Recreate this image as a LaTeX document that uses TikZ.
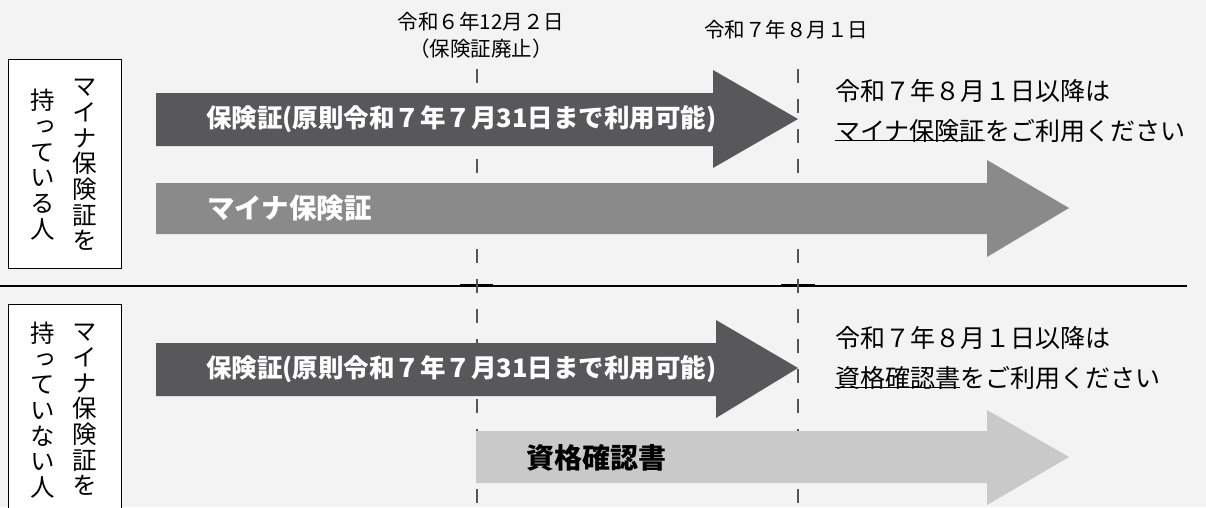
\documentclass[tikz,border=0pt]{standalone}
\usepackage{fontspec}
\newfontfamily\jp{Noto Sans CJK JP}
\newfontfamily\jpv{Noto Sans CJK JP}[RawFeature=+vert]
\definecolor{bgcol}{RGB}{243,243,243}
\definecolor{darkarr}{RGB}{88,87,89}
\definecolor{midarr}{RGB}{138,138,138}
\definecolor{lightarr}{RGB}{200,201,200}
\definecolor{dashcol}{RGB}{85,85,85}
\tikzset{
  dashline/.style={draw=dashcol, line width=1.3pt, dash pattern=on 14pt off 16pt},
  sidebox/.style={draw=black, line width=0.9pt, fill=white, minimum width=113pt, inner sep=0pt},
  vcol/.style={align=center, inner sep=0pt, font=\jpv\fontsize{24.5}{25.7}\selectfont},
  arrlabel/.style={anchor=west, inner sep=0pt, text=white, font=\jp\bfseries\fontsize{25.5}{30}\selectfont},
  datelabel/.style={inner sep=0pt, font=\jp\fontsize{20.5}{24}\selectfont},
  notetext/.style={anchor=west, inner sep=0pt, font=\jp\fontsize{25}{30}\selectfont},
}
\begin{document}
\begin{tikzpicture}[x=1pt,y=-1pt]
\useasboundingbox (0,0) rectangle (1206,507);
\fill[bgcol] (0,0) rectangle (1206,507);

% dashed time lines
\coordinate (d1t) at (477,69);
\coordinate (d1b) at (477,507);
\coordinate (d2t) at (798,69);
\coordinate (d2b) at (798,507);
\draw[dashline] (d1t) -- (d1b);
\draw[dashline] (d2t) -- (d2b);

% separator
\coordinate (sepL) at (0,286);
\coordinate (sepR) at (1187,286);
\draw[black, line width=1.2pt] (sepL) -- (sepR);
\draw[black, line width=2.2pt] (460,285.3) -- (493,285.3);
\draw[black, line width=2.2pt] (781,285.3) -- (815,285.3);
\draw[dashcol, line width=1.3pt] (477,281) -- (477,292);
\draw[dashcol, line width=1.3pt] (798,281) -- (798,292);

% date labels
\node[datelabel] (date1) at (481,22) {令和６年12月２日};
\node[datelabel] (date1b) at (481,49) {（保険証廃止）};
\node[datelabel] (date2) at (786,30) {令和７年８月１日};

% side boxes
\node[sidebox, minimum height=209pt] (box1) at (64.5,163.5) {};
\node[vcol] (b1r) at (85,165) {マ\\イ\\ナ\\保\\険\\証\\を};
\node[vcol] (b1l) at (43,164.5) {持\\っ\\て\\い\\る\\人};

\node[sidebox, minimum height=220pt] (box2) at (64.5,414) {};
\node[vcol] (b2r) at (85,410) {マ\\イ\\ナ\\保\\険\\証\\を};
\node[vcol] (b2l) at (43,410) {持\\っ\\て\\い\\な\\い\\人};

% top row arrows
\fill[darkarr] (156,93) -- (713,93) -- (713,70) -- (798,119) -- (713,168) -- (713,146) -- (156,146) -- cycle;
\node[arrlabel] (a1) at (206,119.5) {保険証(原則令和７年７月31日まで利用可能)};

\fill[midarr] (156,183) -- (987,183) -- (987,160) -- (1069,208) -- (987,257) -- (987,234) -- (156,234) -- cycle;
\node[arrlabel, font=\jp\bfseries\fontsize{27.5}{32}\selectfont] (a2) at (207,208.5) {マイナ保険証};

% bottom row arrows
\fill[darkarr] (156,343) -- (716,343) -- (716,320) -- (798,368) -- (716,418) -- (716,396) -- (156,396) -- cycle;
\node[arrlabel] (a3) at (206,369.5) {保険証(原則令和７年７月31日まで利用可能)};

\fill[lightarr] (476,431) -- (987,431) -- (987,410) -- (1069,457) -- (987,505) -- (987,483) -- (476,483) -- cycle;
\node[arrlabel, text=black, font=\jp\bfseries\fontsize{28}{32}\selectfont] (a4) at (526,458) {資格確認書};

% notes
\node[notetext] (n1) at (835,91) {令和７年８月１日以降は};
\node[notetext] (n1u) at (835,131) {マイナ保険証};
\node[notetext] (n1r) at (n1u.east) {をご利用ください};
\draw[black, line width=1pt] ([yshift=2pt]n1u.south west) -- ([yshift=2pt]n1u.south east);

\node[notetext] (n2) at (835,338) {令和７年８月１日以降は};
\node[notetext] (n2u) at (835,378) {資格確認書};
\node[notetext] (n2r) at (n2u.east) {をご利用ください};
\draw[black, line width=1pt] ([yshift=2pt]n2u.south west) -- ([yshift=2pt]n2u.south east);
\end{tikzpicture}
\end{document}
